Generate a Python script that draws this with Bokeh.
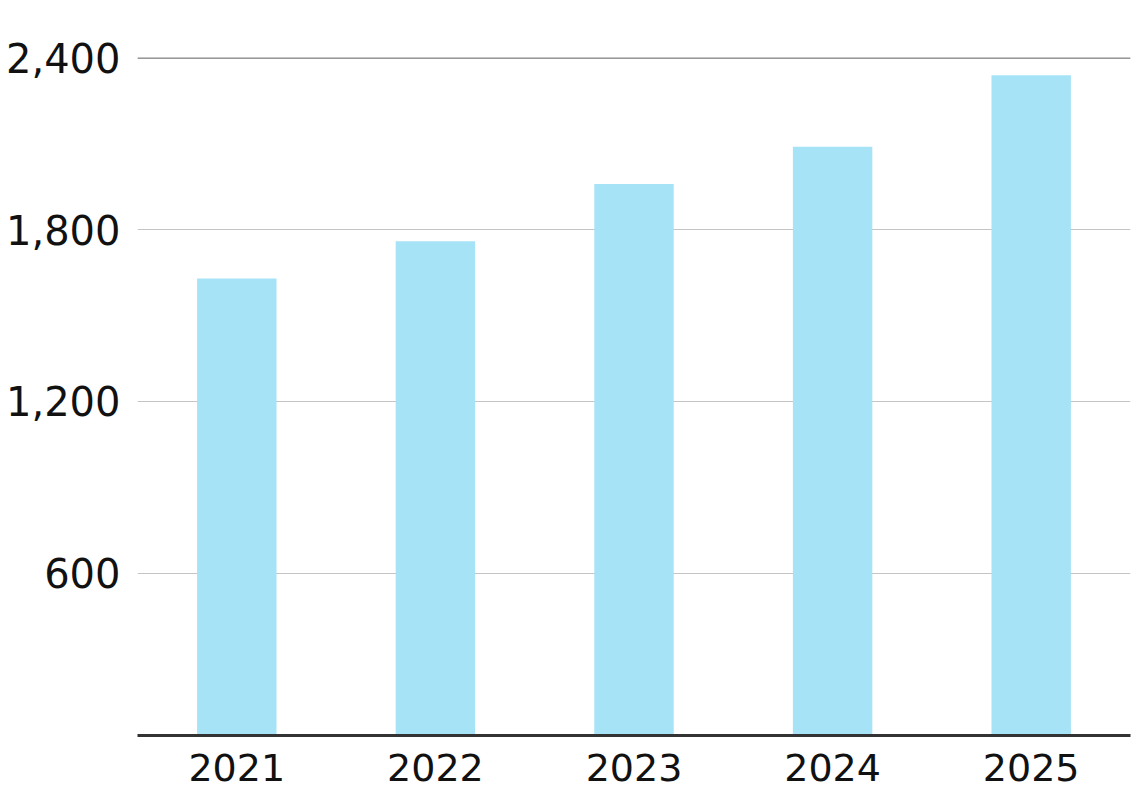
from bokeh.plotting import figure
from bokeh.models import Range1d, FixedTicker, NumeralTickFormatter, Span
from bokeh.embed import file_html
from bokeh.resources import INLINE

years = ["2021", "2022", "2023", "2024", "2025"]
values = [1630, 1760, 1960, 2090, 2340]
y_ticks = [600, 1200, 1800, 2400]

p = figure(
    x_range=years,
    y_range=Range1d(32.5, 2601.5),
    width=1138,
    height=792,
    output_backend="svg",
    toolbar_location=None,
    min_border_left=137,
    min_border_right=8,
    min_border_top=0,
    min_border_bottom=57,
)
p.x_range.range_padding = 0

p.vbar(x=years, top=values, bottom=0, width=0.4, color="#a6e3f7", line_color=None)

# styling
p.outline_line_color = None
p.xgrid.grid_line_color = None
p.ygrid.grid_line_color = "#c4c4c4"
p.ygrid.grid_line_width = 1
p.ygrid.ticker = FixedTicker(ticks=y_ticks)

top_line = Span(location=y_ticks[-1], dimension="width", line_color="#8a8a8a", line_width=1.2)
p.add_layout(top_line)

p.yaxis.ticker = FixedTicker(ticks=y_ticks)
p.yaxis.formatter = NumeralTickFormatter(format="0,0")
p.yaxis.axis_line_color = None
p.yaxis.major_tick_line_color = None
p.yaxis.minor_tick_line_color = None
p.yaxis.major_label_standoff = 11
p.yaxis.major_label_text_font = "DejaVu Sans"
p.yaxis.major_label_text_font_size = "40px"
p.yaxis.major_label_text_color = "#111111"

p.xaxis.axis_line_color = "#333333"
p.xaxis.axis_line_width = 3
p.xaxis.major_tick_line_color = None
p.xaxis.minor_tick_line_color = None
p.xaxis.major_label_standoff = 12
p.xaxis.major_label_text_font = "DejaVu Sans"
p.xaxis.major_label_text_font_size = "38px"
p.xaxis.major_label_text_color = "#111111"

open("out.html", "w").write(file_html(p, INLINE))
